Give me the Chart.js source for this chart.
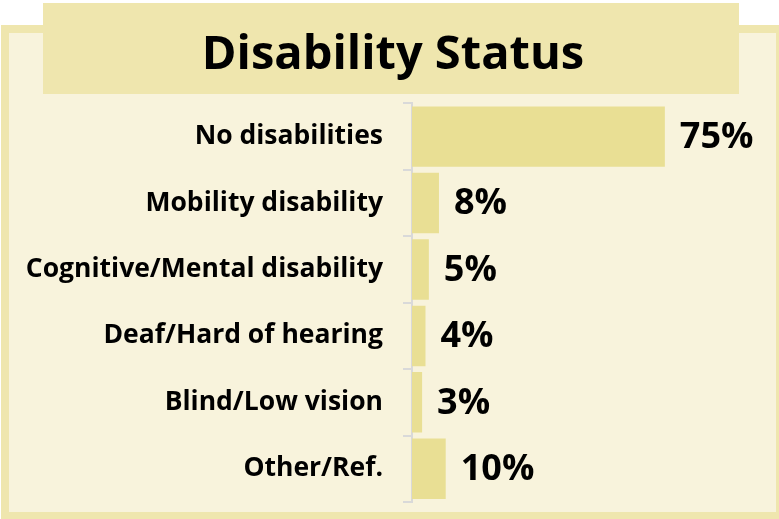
<!DOCTYPE html>
<html>
<head>
<meta charset="utf-8">
<script src="https://cdn.jsdelivr.net/npm/chart.js@4"></script>
<style>
  html,body{margin:0;padding:0;background:#fff;}
  #wrap{width:779px;height:519px;position:relative;}
</style>
</head>
<body>
<div id="wrap"><canvas id="chart_dis"></canvas></div>
<script>
// ---------- data ----------
const categories = ['No disabilities','Mobility disability','Cognitive/Mental disability','Deaf/Hard of hearing','Blind/Low vision','Other/Ref.'];
const shares = [75, 8, 5, 4, 3, 10];
const titleText = 'Disability Status';

const FRAME = '#efe6ae', PANEL = '#f8f3dc', BAR = '#e9df94', AXIS = '#d9d9d9';
const FONT = "'Open Sans', sans-serif";

// frame + title box behind the chart
const framePlugin = {
  id: 'frame',
  beforeDraw(chart){
    const c = chart.ctx;
    c.save();
    c.fillStyle = FRAME; c.fillRect(1, 25, 778, 494);
    c.fillStyle = PANEL; c.fillRect(9, 33, 767, 479);
    c.fillStyle = FRAME; c.fillRect(43, 3, 696, 91);
    c.restore();
  }
};

// value labels right of the bars
const valueLabels = {
  id: 'valueLabels',
  afterDatasetsDraw(chart){
    const c = chart.ctx;
    const meta = chart.getDatasetMeta(0);
    c.save();
    c.font = 'bold 36px ' + FONT;
    c.fillStyle = '#000';
    c.textAlign = 'left'; c.textBaseline = 'middle';
    meta.data.forEach((bar, i) => {
      c.fillText(shares[i] + '%', bar.x + 15, bar.y + 1);
    });
    c.restore();
  }
};

function makeDisabilityChart(){
  const ctx = document.getElementById('chart_dis').getContext('2d');
  return new Chart(ctx, {
    type: 'bar',
    data: {labels: categories, datasets: [{data: shares, backgroundColor: BAR, borderWidth: 0,
      barPercentage: 0.91, categoryPercentage: 1}]},
    options: {
      indexAxis: 'y', animation: false, responsive: true, maintainAspectRatio: false,
      layout: {autoPadding: false, padding: {left: 20, right: 13, top: 0, bottom: 17}},
      scales: {
        x: {display: false, min: 0, max: 105},
        y: {
          // fixed axis width, no extra label padding above/below the plot
          afterFit: s => { s.width = 392; s.paddingTop = 0; s.paddingBottom = 0; },
          grid: {drawOnChartArea: false, tickLength: 9, color: AXIS, lineWidth: 2},
          border: {color: AXIS, width: 2},
          ticks: {color: '#000', padding: 20, font: {family: FONT, weight: 'bold', size: 26.5}}
        }
      },
      plugins: {
        legend: {display: false},
        tooltip: {enabled: false},
        title: {display: true, text: titleText, color: '#000',
          font: {family: FONT, weight: 'bold', size: 47, lineHeight: 1.2},
          padding: {top: 27, bottom: 20}}
      }
    },
    plugins: [framePlugin, valueLabels]
  });
}
makeDisabilityChart();
</script>
</body>
</html>
